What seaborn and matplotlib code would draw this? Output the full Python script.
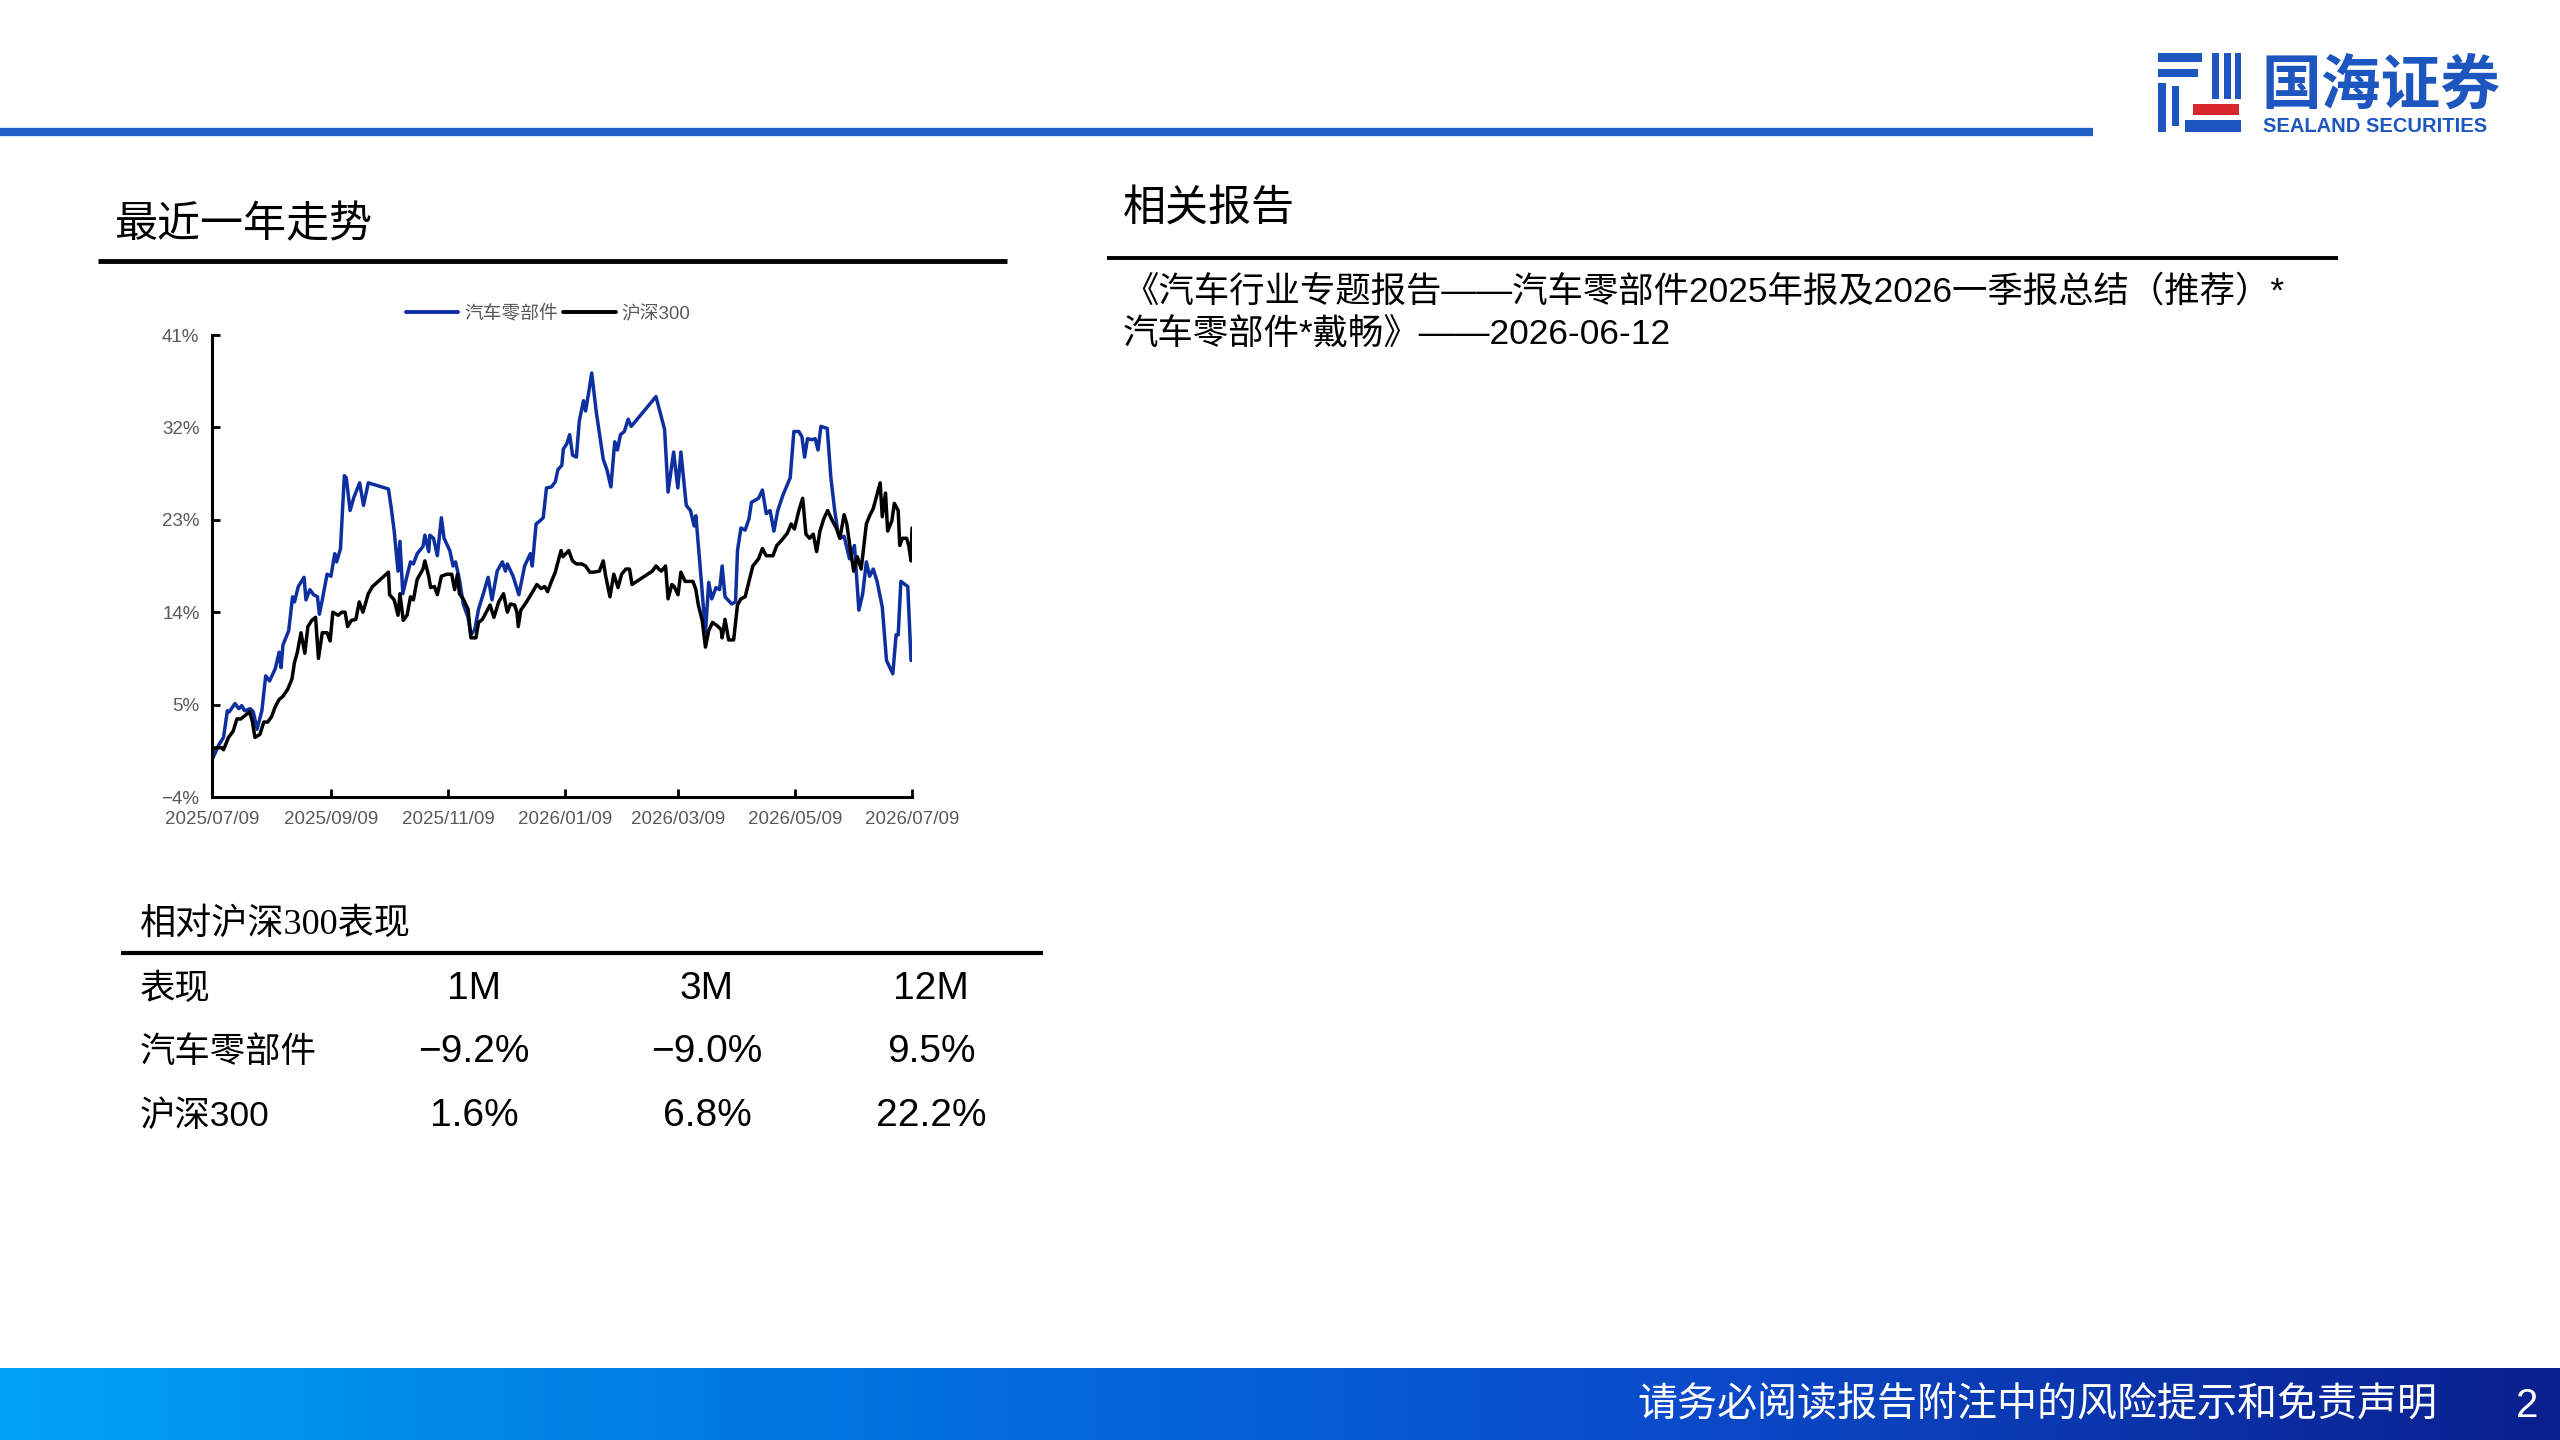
import numpy as np
import pandas as pd
import seaborn as sns
import matplotlib.pyplot as plt
import matplotlib.dates as mdates
from matplotlib.ticker import PercentFormatter
from matplotlib.colors import LinearSegmentedColormap
from matplotlib.patches import Rectangle
from matplotlib.lines import Line2D

# Series: days since 2025/07/09 and cumulative return (%)
start_date = '2025-07-09'

auto_days = [0, 3.6, 6, 8, 9, 12, 14, 15.5, 17, 20,
             21.5, 23.5, 26, 28, 30, 33, 35, 36, 37, 40,
             42, 43, 45, 48, 49, 51, 53, 55, 56, 57.5,
             60, 62, 64, 65, 67, 69, 70, 72, 74, 77,
             79, 81.5, 92, 93.5, 95, 97, 98, 99.5, 101.5, 103.5,
             105, 107, 110, 111, 113, 113.6, 115.5, 117.5, 119.6, 121,
             124, 125.7, 127, 129, 131, 133.5, 135, 137, 139, 141,
             144, 146, 148.7, 151.4, 153, 154, 157, 160, 161.6, 163,
             166, 167, 169, 171, 172.7, 174.4, 177, 179, 180.4, 182.4,
             183.2, 185, 186.5, 188, 190, 191.5, 193.7, 194.8, 196.5, 198,
             200.3, 204, 205.9, 208, 210, 211.4, 213, 215, 217, 218.6,
             231.5, 236, 237.8, 240.7, 242.9, 244.5, 247.3, 249.5, 251.4, 252.3,
             254.5, 257.3, 259, 260.6, 262.8, 264.7, 266, 267.5, 271, 273,
             274, 275.8, 278, 280, 281.3, 285, 287, 289, 291, 293,
             295, 297.7, 301.5, 303.4, 306, 307.6, 309, 310.5, 312.6, 314.5,
             316, 317.5, 320.8, 322.7, 324.7, 326.3, 327.4, 329.6, 332.4, 335,
             337.3, 339.3, 341.2, 342.9, 344.8, 346.8, 349.5, 351.7, 355, 356.7,
             357.8, 359.2, 362.8, 364.5]
auto_vals = [-0.4, 1.1, 1.8, 4.4, 4.3, 5.1, 4.6, 4.9, 4.4, 4.6,
             4.3, 2.6, 4.4, 7.8, 7.3, 8.5, 10.1, 8.6, 10.8, 12.2,
             15.5, 15.0, 16.5, 17.4, 15.2, 16.2, 15.7, 15.5, 13.8, 15.2,
             17.7, 17.5, 19.7, 18.9, 20.2, 27.3, 27.1, 23.9, 25.2, 26.6,
             24.4, 26.6, 26.0, 24.1, 21.9, 18.0, 20.9, 15.8, 17.4, 18.9,
             18.7, 19.7, 20.4, 21.5, 19.9, 21.5, 21.2, 19.5, 23.2, 21.2,
             20.0, 18.5, 18.9, 17.2, 14.8, 13.5, 11.8, 12.3, 14.3, 15.5,
             17.4, 15.2, 18.0, 18.9, 18.0, 18.7, 17.5, 15.7, 17.2, 18.5,
             19.7, 18.5, 22.6, 22.9, 23.2, 26.1, 26.2, 26.7, 27.9, 28.3,
             29.9, 30.4, 31.3, 29.3, 29.1, 32.6, 34.6, 33.6, 35.5, 37.3,
             33.6, 28.9, 27.9, 26.2, 30.6, 29.8, 31.3, 31.6, 32.8, 32.1,
             35.0, 31.8, 25.7, 29.6, 26.1, 29.6, 24.4, 23.9, 22.4, 23.4,
             18.5, 12.0, 16.9, 15.3, 16.4, 16.2, 18.5, 15.5, 14.8, 15.0,
             20.0, 22.2, 22.0, 23.1, 24.7, 25.1, 25.9, 23.6, 23.9, 21.9,
             23.9, 25.4, 27.1, 31.6, 31.6, 31.1, 29.1, 30.9, 30.8, 30.9,
             29.8, 32.1, 31.9, 27.1, 23.9, 21.9, 21.2, 21.4, 19.2, 20.5,
             14.2, 15.8, 18.9, 17.5, 18.2, 17.0, 14.5, 9.3, 8.0, 11.8,
             11.8, 17.0, 16.5, 9.3]

hs300_days = [0, 2, 5, 6, 8.6, 11, 13, 15, 17, 19.6,
              21, 22.4, 25, 27, 29, 31, 33, 35, 37, 39.5,
              41.7, 43, 44.5, 46.4, 48.4, 50, 52, 54, 55.5, 57.5,
              60, 61.6, 63, 65.8, 67.7, 69.4, 70.7, 72.7, 75, 76.8,
              78.7, 81.5, 83.7, 92, 92.6, 95, 97, 98, 99.7, 101.7,
              103.5, 105, 107, 110, 111, 113, 114, 116, 117.5, 119.6,
              122.4, 125, 126.5, 128, 129, 131, 133.5, 135, 137.6, 139,
              141, 143, 145, 147, 149.5, 152, 154, 155.6, 157.8, 159,
              159.7, 161, 164, 166.6, 169.4, 171.6, 173.5, 175, 177, 179,
              180.4, 182, 183, 186, 188, 190, 192.8, 194.8, 197, 199,
              202, 204, 205.3, 207.5, 209.5, 211.7, 213.6, 215.8, 217.7, 219,
              229.6, 231.5, 233, 234.3, 236.5, 237.8, 239.8, 241, 243, 244.5,
              246.7, 250.8, 252.3, 253.6, 255.6, 257.3, 259, 261, 263.3, 265.5,
              266, 267.5, 269.4, 272, 274, 275.8, 278, 280, 282, 285,
              287, 289, 292.5, 294.5, 297, 300, 302, 303.7, 306, 308,
              309.7, 311.6, 313.5, 315.3, 317, 319, 321, 323.5, 325.5, 327.4,
              329.6, 331, 333, 334.6, 336.5, 338.5, 341.2, 342.9, 344.8, 348.4,
              349.5, 351.2, 352.3, 354.5, 355.8, 357.8, 358.6, 360, 362.2, 363.3,
              364.5, 365]
hs300_vals = [0.6, 0.8, 0.8, 0.6, 1.8, 2.4, 3.6, 3.6, 3.9, 4.3,
              3.4, 1.8, 2.1, 3.3, 3.3, 3.8, 4.8, 5.5, 5.8, 6.5,
              7.5, 9.1, 10.1, 12.0, 10.0, 12.6, 13.2, 13.5, 9.5, 12.0,
              12.0, 11.2, 14.0, 13.7, 14.0, 14.0, 12.6, 13.2, 13.3, 15.0,
              14.0, 15.8, 16.5, 17.9, 15.7, 15.2, 13.7, 15.8, 13.2, 13.7,
              15.5, 15.2, 17.2, 18.2, 19.0, 17.5, 16.4, 16.5, 15.7, 17.5,
              17.7, 17.7, 16.2, 17.7, 15.8, 15.3, 14.3, 11.5, 11.5, 13.0,
              13.3, 14.0, 14.7, 13.5, 15.0, 15.8, 14.0, 14.8, 14.7, 14.0,
              12.6, 14.2, 15.0, 15.8, 16.7, 16.3, 16.5, 16.0, 17.0, 17.9,
              18.9, 20.0, 19.4, 20.0, 19.0, 18.7, 18.7, 18.5, 17.9, 17.9,
              18.0, 19.0, 17.5, 15.5, 17.7, 16.4, 17.7, 18.2, 18.2, 16.7,
              18.0, 18.5, 18.2, 18.0, 18.5, 15.3, 16.7, 16.5, 15.7, 17.9,
              17.0, 17.0, 16.2, 14.7, 13.2, 10.6, 12.2, 13.0, 12.7, 12.3,
              11.5, 13.3, 11.3, 11.3, 14.7, 15.3, 15.5, 17.0, 18.5, 19.2,
              20.2, 19.5, 19.5, 20.5, 21.0, 21.7, 22.6, 22.1, 23.9, 25.1,
              21.6, 21.2, 21.6, 19.9, 21.9, 23.1, 23.9, 22.9, 22.2, 21.2,
              23.5, 22.6, 19.9, 18.0, 19.4, 18.2, 22.6, 23.4, 24.1, 26.6,
              23.3, 25.6, 21.9, 22.9, 24.6, 23.9, 20.5, 21.2, 21.2, 20.5,
              19.0, 22.2]

series_names = ['汽车零部件', '沪深300']
series_colors = ['#0d2f9f', '#000000']
tick_dates = ['2025-07-09', '2025-09-09', '2025-11-09', '2026-01-09',
              '2026-03-09', '2026-05-09', '2026-07-09']
y_ticks = [-4, 5, 14, 23, 32, 41]

# Relative performance table
table_header = ['表现', '1M', '3M', '12M']
table_rows = [['汽车零部件', '−9.2%', '−9.0%', '9.5%'],
              ['沪深300', '1.6%', '6.8%', '22.2%']]

report_lines = ['《汽车行业专题报告——汽车零部件2025年报及2026一季报总结（推荐）*',
                '汽车零部件*戴畅》——2026-06-12']
footer_text = '请务必阅读报告附注中的风险提示和免责声明'
page_no = '2'

sns.set_theme(style='white')
plt.rcParams['font.family'] = ['Liberation Sans', 'Noto Sans CJK SC', 'DejaVu Sans']
plt.rcParams['axes.unicode_minus'] = True

t0 = pd.Timestamp(start_date)
df_auto = pd.DataFrame({'date': t0 + pd.to_timedelta(auto_days, unit='D'), 'value': auto_vals})
df_hs = pd.DataFrame({'date': t0 + pd.to_timedelta(hs300_days, unit='D'), 'value': hs300_vals})

fig = plt.figure(figsize=(25.6, 14.4), dpi=100)

# page decoration in pixel coordinates
bg = fig.add_axes([0, 0, 1, 1])
bg.set_zorder(0)
grad = LinearSegmentedColormap.from_list(
    'footer', [(0, '#00a2f6'), (0.3, '#0078e0'), (0.65, '#0a4ccb'), (1, '#0b1f8e')])
bg.imshow(np.linspace(0, 1, 512)[None, :], extent=(0, 2560, 1440, 1368),
          cmap=grad, aspect='auto')
bg.set_xlim(0, 2560)
bg.set_ylim(1440, 0)
bg.axis('off')

bg.plot([0, 2093], [132, 132], color='#1f5fc4', lw=6, solid_capstyle='butt')

# logo
logo_blue = '#1e56c0'
for (x, y, w, h) in [(2158, 53, 44, 9), (2158, 69, 40, 8), (2158, 83, 8, 49),
                     (2172, 86, 7, 40), (2212, 53, 7, 46), (2224, 53, 7, 46),
                     (2235, 53, 6, 46), (2185, 120, 56, 12)]:
    bg.add_patch(Rectangle((x, y), w, h, color=logo_blue, lw=0))
bg.add_patch(Rectangle((2193, 104), 46, 11, color='#d8262c', lw=0))
bg.text(2262, 87, '国海证券', fontsize=43, fontweight='bold', color=logo_blue,
        va='center', ha='left', family=['Noto Sans CJK SC'])
bg.text(2263, 127, 'SEALAND SECURITIES', fontsize=14.5, fontweight='bold',
        color=logo_blue, va='center', ha='left')

# section titles
bg.text(115, 226, '最近一年走势', fontsize=31, va='center', ha='left', color='black')
bg.plot([98, 1007], [261, 261], color='black', lw=3.5, solid_capstyle='butt')
bg.text(1123, 210, '相关报告', fontsize=31, va='center', ha='left', color='black')
bg.plot([1107, 2338], [258, 258], color='black', lw=2.8, solid_capstyle='butt')
for i, line in enumerate(report_lines):
    bg.text(1123, 292 + 43 * i, line, fontsize=25.5, va='center', ha='left', color='black')

bg.text(140, 925, '相对沪深300表现', fontsize=26, va='center', ha='left', color='black',
        family=['Liberation Serif', 'Noto Sans CJK SC'])
bg.plot([121, 1043], [953, 953], color='black', lw=3, solid_capstyle='butt')
col_x = [140, 474, 707, 931]
for r, row in enumerate([table_header] + table_rows):
    y = 989 + 63.5 * r
    for c, cell in enumerate(row):
        bg.text(col_x[c], y, cell, fontsize=25.5 if c == 0 else 28, va='center',
                ha='left' if c == 0 else 'center', color='black')

bg.text(1637, 1406, footer_text, fontsize=28.8, color='white', va='center', ha='left')
bg.text(2527, 1406, page_no, fontsize=29, color='white', va='center', ha='center')

# line chart
ax = fig.add_axes([212 / 2560, 1 - 797 / 1440, 700 / 2560, 462 / 1440])
ax.set_zorder(1)
ax.patch.set_alpha(0)
sns.lineplot(data=df_auto, x='date', y='value', ax=ax, color=series_colors[0], lw=2.5)
sns.lineplot(data=df_hs, x='date', y='value', ax=ax, color=series_colors[1], lw=2.5)

ax.set_xlim(pd.Timestamp(tick_dates[0]), pd.Timestamp(tick_dates[-1]))
ax.set_ylim(y_ticks[0], y_ticks[-1])
ax.set_xticks([pd.Timestamp(d) for d in tick_dates])
ax.xaxis.set_major_formatter(mdates.DateFormatter('%Y/%m/%d'))
ax.set_yticks(y_ticks)
ax.yaxis.set_major_formatter(PercentFormatter(decimals=0))
ax.set_xlabel('')
ax.set_ylabel('')
ax.tick_params(axis='both', direction='in', length=6, width=2, color='black',
               labelsize=13.5, labelcolor='#595959')
ax.tick_params(axis='x', pad=10)
ax.tick_params(axis='y', pad=9)
ax.tick_params(left=True, bottom=True)
for side in ['top', 'right']:
    ax.spines[side].set_visible(False)
for side in ['left', 'bottom']:
    ax.spines[side].set_color('black')
    ax.spines[side].set_linewidth(2.2)

handles = [Line2D([0], [0], color=c, lw=2.8) for c in series_colors]
leg = ax.legend(handles, series_names, loc='lower center', bbox_to_anchor=(0.48, 1.0),
                ncol=2, frameon=False, fontsize=13.5, handlelength=2.8,
                columnspacing=0.3, handletextpad=0.3, borderaxespad=0.25)
for t in leg.get_texts():
    t.set_color('#595959')

fig.savefig('out.png', dpi=100)
